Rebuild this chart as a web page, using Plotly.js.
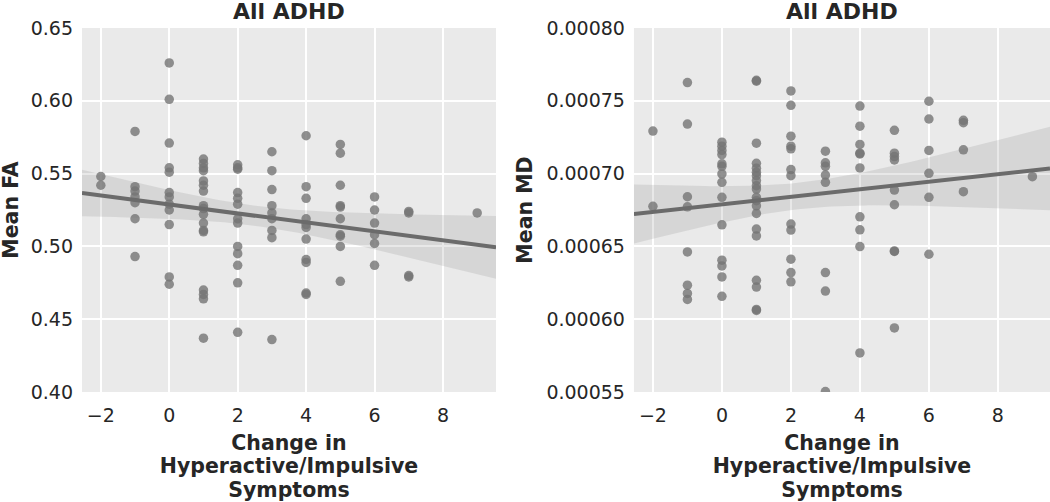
<!DOCTYPE html>
<html>
<head>
<meta charset="utf-8">
<script src="https://cdn.plot.ly/plotly-3.0.1.min.js"></script>
<style>html,body{margin:0;padding:0;background:#fff;}#chart{width:1050px;height:502px;}</style>
</head>
<body>
<div id="chart"></div>
<script>
// ---- Data ----
const panelTitles = ["All ADHD", "All ADHD"];
const xTitle = "Change in<br>Hyperactive/Impulsive<br>Symptoms";
const yTitleFA = "Mean FA";
const yTitleMD = "Mean MD";

// Left panel: change in symptoms (x) and Mean FA (y)
const faX = [
  -2,-2,
  -1,-1,-1,-1,-1,-1,-1,
  0,0,0,0,0,0,0,0,0,0,0,0,
  1,1,1,1,1,1,1,1,1,1,1,1,1,1,1,1,1,
  2,2,2,2,2,2,2,2,2,2,2,2,2,
  3,3,3,3,3,3,3,3,3,
  4,4,4,4,4,4,4,4,4,4,4,
  5,5,5,5,5,5,5,5,5,5,
  6,6,6,6,6,6,
  7,7,7,7,
  9
];
const faY = [
  0.548,0.542,
  0.579,0.541,0.538,0.534,0.530,0.519,0.493,
  0.626,0.601,0.571,0.554,0.551,0.537,0.534,0.529,0.525,0.515,0.479,0.474,
  0.560,0.557,0.554,0.552,0.545,0.542,0.538,0.528,0.526,0.522,0.516,0.511,0.510,0.470,0.467,0.464,0.437,
  0.556,0.554,0.553,0.537,0.533,0.529,0.519,0.516,0.500,0.495,0.487,0.475,0.441,
  0.565,0.552,0.539,0.528,0.523,0.519,0.511,0.506,0.436,
  0.576,0.541,0.533,0.519,0.515,0.513,0.505,0.491,0.489,0.468,0.467,
  0.570,0.564,0.542,0.528,0.527,0.519,0.508,0.507,0.500,0.476,
  0.534,0.525,0.516,0.508,0.502,0.487,
  0.524,0.523,0.480,0.479,
  0.523
];

// Right panel: change in symptoms (x) and Mean MD (y)
const mdX = [
  -2,-2,
  -1,-1,-1,-1,-1,-1,-1,-1,
  0,0,0,0,0,0,0,0,0,0,0,0,0,0,
  1,1,1,1,1,1,1,1,1,1,1,1,1,1,1,1,1,1,1,1,
  2,2,2,2,2,2,2,2,2,2,2,2,
  3,3,3,3,3,3,3,3,
  4,4,4,4,4,4,4,4,4,4,
  5,5,5,5,5,5,5,5,5,
  6,6,6,6,6,6,
  7,7,7,7,
  9
];
const mdY = [
  0.0007292,0.0006775,
  0.0007625,0.0007340,0.0006841,0.0006772,0.0006462,0.0006234,0.0006177,0.0006136,
  0.0007216,0.0007188,0.0007159,0.0007131,0.0007067,0.0007050,0.0006998,0.0006940,0.0006837,0.0006648,0.0006405,0.0006366,0.0006290,0.0006157,
  0.0007641,0.0007635,0.0007209,0.0007071,0.0007037,0.0007009,0.0006986,0.0006952,0.0006917,0.0006894,0.0006837,0.0006814,0.0006779,0.0006726,0.0006619,0.0006572,0.0006267,0.0006221,0.0006067,0.0006060,
  0.0007568,0.0007469,0.0007257,0.0007188,0.0007170,0.0007028,0.0006986,0.0006653,0.0006612,0.0006412,0.0006320,0.0006257,
  0.0007154,0.0007074,0.0007050,0.0006990,0.0006940,0.0006320,0.0006193,0.0005503,
  0.0007464,0.0007326,0.0007200,0.0007140,0.0007135,0.0007039,0.0006703,0.0006614,0.0006499,0.0005768,
  0.0007297,0.0007140,0.0007117,0.0007094,0.0006887,0.0006786,0.0006469,0.0006465,0.0005940,
  0.0007497,0.0007375,0.0007159,0.0007002,0.0006837,0.0006446,
  0.0007366,0.0007350,0.0007163,0.0006876,
  0.0006979
];

// ---- OLS fit with 95% confidence band (derived from the data) ----
function fit(xs, ys, lo, hi) {
  const n = xs.length;
  const mx = xs.reduce((a,b)=>a+b,0)/n;
  const my = ys.reduce((a,b)=>a+b,0)/n;
  let sxx=0, sxy=0;
  for (let i=0;i<n;i++){ sxx += (xs[i]-mx)**2; sxy += (xs[i]-mx)*(ys[i]-my); }
  const b = sxy/sxx, a = my - b*mx;
  let sse=0;
  for (let i=0;i<n;i++){ sse += (ys[i]-(a+b*xs[i]))**2; }
  const s = Math.sqrt(sse/(n-2));
  const t = 1.984;
  const gx=[], gy=[], up=[], dn=[];
  const N=100;
  for (let k=0;k<N;k++){
    const x = lo + (hi-lo)*k/(N-1);
    const y = a + b*x;
    const se = s*Math.sqrt(1/n + (x-mx)**2/sxx);
    gx.push(x); gy.push(y); up.push(y+t*se); dn.push(y-t*se);
  }
  return {gx, gy, up, dn};
}

const xRange1 = [-2.55, 9.55];
const xRange2 = [-2.55, 9.51];
const f1 = fit(faX, faY, xRange1[0], xRange1[1]);
const f2 = fit(mdX, mdY, xRange2[0], xRange2[1]);

const ptColor = 'rgba(116,116,116,0.8)';
const lineColor = '#6b6b6b';
const bandColor = 'rgba(110,110,110,0.16)';

function band(f, xa, ya){
  return {
    x: f.gx.concat(f.gx.slice().reverse()),
    y: f.up.concat(f.dn.slice().reverse()),
    xaxis: xa, yaxis: ya, type:'scatter', mode:'lines',
    fill:'toself', fillcolor: bandColor, line:{width:0}, hoverinfo:'skip'
  };
}

const traces = [
  band(f1,'x','y'),
  {x: faX, y: faY, xaxis:'x', yaxis:'y', type:'scatter', mode:'markers',
   marker:{size:9.5, color: ptColor, line:{width:0}}},
  {x: f1.gx, y: f1.gy, xaxis:'x', yaxis:'y', type:'scatter', mode:'lines',
   line:{color: lineColor, width:4}},
  band(f2,'x2','y2'),
  {x: mdX, y: mdY, xaxis:'x2', yaxis:'y2', type:'scatter', mode:'markers',
   marker:{size:9.5, color: ptColor, line:{width:0}}},
  {x: f2.gx, y: f2.gy, xaxis:'x2', yaxis:'y2', type:'scatter', mode:'lines',
   line:{color: lineColor, width:4}}
];

const TITLE_SIZE = 20.5;
const tickFont = {family:'DejaVu Sans', size:19, color:'#262626'};
const titleFont = {family:'DejaVu Sans', size:TITLE_SIZE, color:'#262626'};

function xAxis(domain, range, anchor){
  return {
    domain: domain, range: range, anchor: anchor,
    tick0:0, dtick:2, showgrid:true, gridcolor:'#ffffff', gridwidth:2,
    zeroline:false, showline:false, ticks:'', tickfont: tickFont,
    ticklabelstandoff: 10,
    title:{text:'<b>'+xTitle+'</b>', font: titleFont, standoff: 14},
    automargin:false
  };
}
function yAxis(range, dtick, fmt, title, anchor, standoff){
  return {
    range: range, dtick: dtick, tick0: range[0], tickformat: fmt, anchor: anchor,
    showgrid:true, gridcolor:'#ffffff', gridwidth:2,
    zeroline:false, showline:false, ticks:'', tickfont: tickFont,
    ticklabelstandoff: 8,
    title:{text:'<b>'+title+'</b>', font: titleFont, standoff: standoff},
    automargin:false
  };
}

const layout = {
  width:1050, height:502,
  margin:{l:82, r:0, t:28, b:110},
  paper_bgcolor:'#ffffff', plot_bgcolor:'#EAEAEA',
  showlegend:false,
  font:{family:'DejaVu Sans', size:19, color:'#262626'},
  xaxis: xAxis([0, 0.4277], xRange1, 'y'),
  yaxis: yAxis([0.40, 0.65], 0.05, '.2f', yTitleFA, 'x', 14),
  xaxis2: xAxis([0.5702, 1], xRange2, 'y2'),
  yaxis2: yAxis([0.00055, 0.00080], 0.00005, '.5f', yTitleMD, 'x2', 8),
  annotations: [
    {text:'<b>'+panelTitles[0]+'</b>', xref:'x domain', yref:'paper', x:0.5, y:1,
     xanchor:'center', yanchor:'bottom', yshift:2, showarrow:false,
     font:{family:'DejaVu Sans', size:22, color:'#262626'}},
    {text:'<b>'+panelTitles[1]+'</b>', xref:'x2 domain', yref:'paper', x:0.5, y:1,
     xanchor:'center', yanchor:'bottom', yshift:2, showarrow:false,
     font:{family:'DejaVu Sans', size:22, color:'#262626'}}
  ]
};

Plotly.newPlot('chart', traces, layout, {displayModeBar:false, staticPlot:true}).then(function(gd){
  // Tighten the line spacing of the multi-line x-axis titles (matplotlib-like)
  // and place the first baseline where the reference has it.
  const targetBaseline = 450;
  gd.querySelectorAll('.g-xtitle text, .g-x2title text').forEach(function(t){
    const lines = t.querySelectorAll('tspan.line');
    if (!lines.length) return;
    lines.forEach(function(ln, k){ ln.setAttribute('dy', (k*1.15)+'em'); });
    const r = lines[0].getBoundingClientRect();
    const gr = gd.getBoundingClientRect();
    const baseline = (r.bottom - gr.top) - 0.236*TITLE_SIZE;
    const shift = targetBaseline - baseline;
    const tr = t.getAttribute('transform') || '';
    t.setAttribute('transform', 'translate(0,' + shift.toFixed(2) + ') ' + tr);
  });
  // Nudge the left y title slightly toward the page edge as in the reference
  gd.querySelectorAll('.g-ytitle text').forEach(function(t){
    const tr = t.getAttribute('transform') || '';
    t.setAttribute('transform', 'translate(-1,0) ' + tr);
  });
});
</script>
</body>
</html>
